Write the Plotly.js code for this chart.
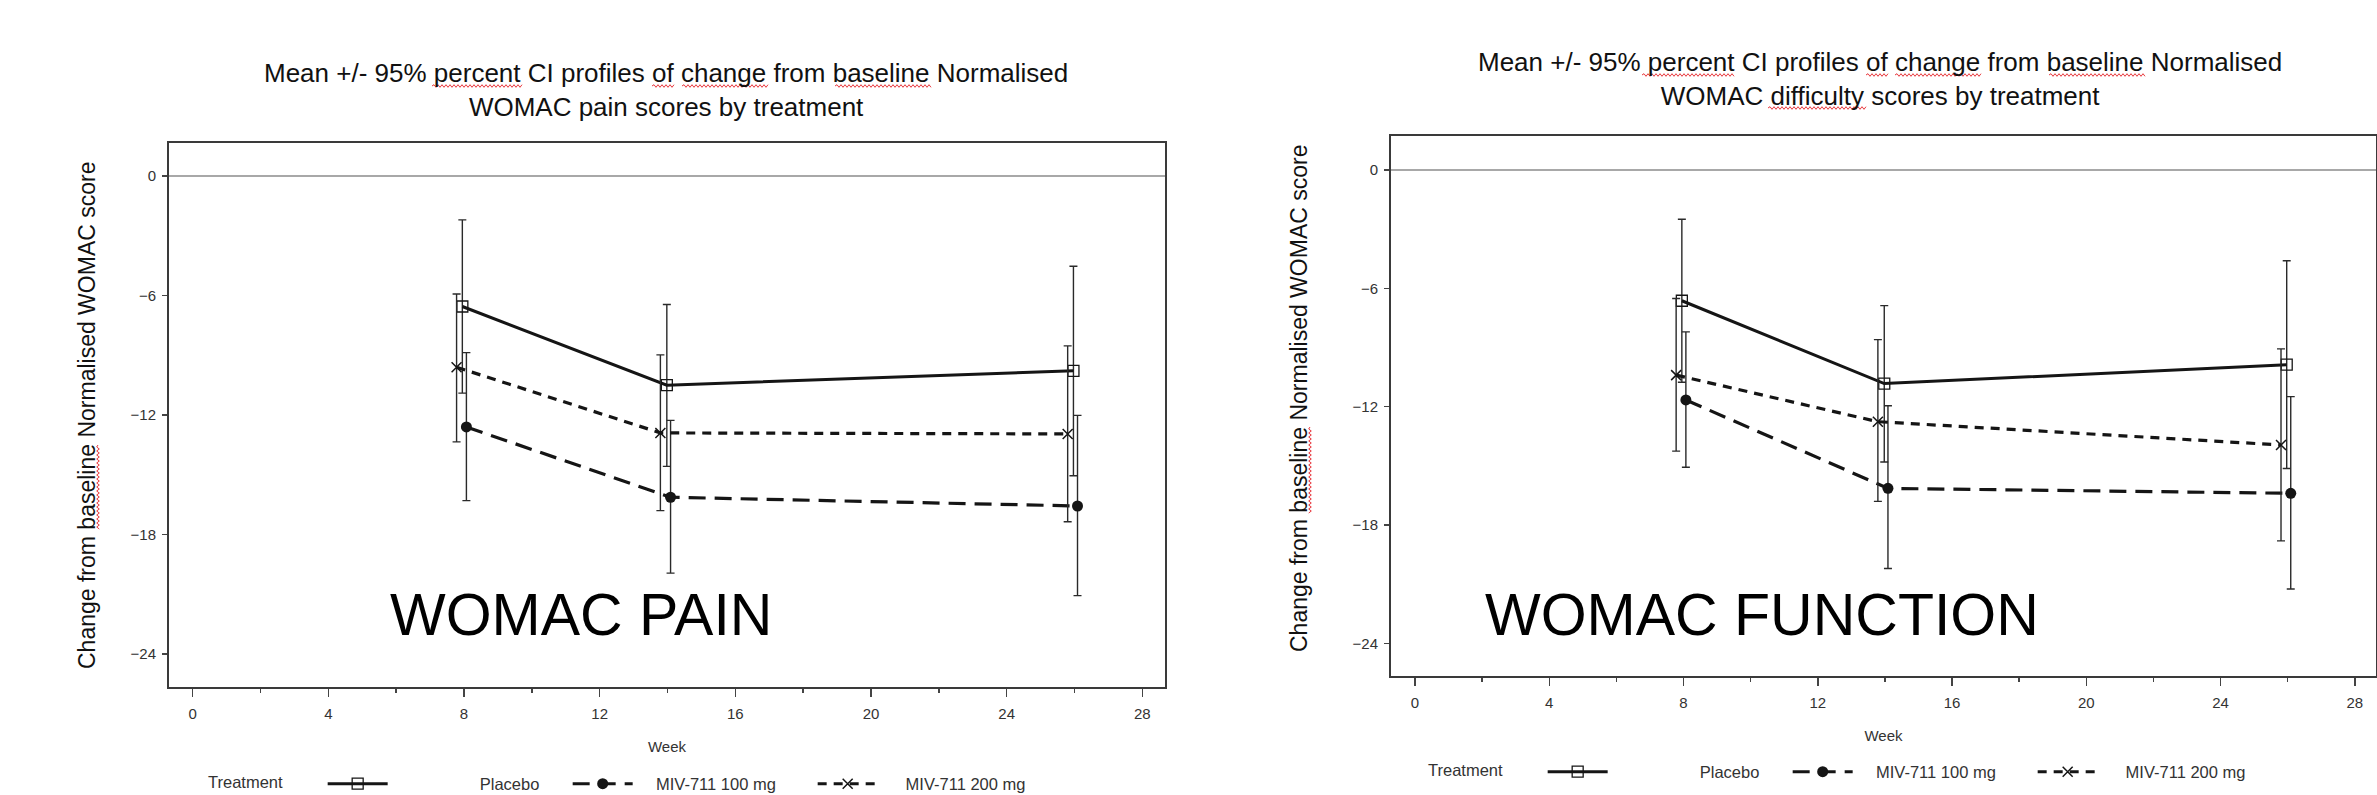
<!DOCTYPE html>
<html>
<head>
<meta charset="utf-8">
<script src="https://cdn.plot.ly/plotly-3.0.1.min.js"></script>
<style>
  html, body { margin: 0; padding: 0; background: #ffffff; }
  #chart { width: 2377px; height: 795px; }
</style>
</head>
<body>
<div id="chart"></div>
<script>
// ---------- data ----------
const treatments = ['Placebo', 'MIV-711 100 mg', 'MIV-711 200 mg'];
const legendTitle = 'Treatment';

// plotted week positions (SAS offsets each group slightly around the visit week)
const weekPlacebo = [7.95, 13.98, 25.97];
const week100 = [8.07, 14.09, 26.09];
const week200 = [7.78, 13.79, 25.8];

// WOMAC pain: mean change and 95% CI
const painPlaceboMean = [-6.55, -10.5, -9.78];
const painPlaceboLow  = [-10.9, -14.58, -15.05];
const painPlaceboHigh = [-2.2, -6.45, -4.53];
const pain100Mean = [-12.6, -16.13, -16.57];
const pain100Low  = [-16.3, -19.94, -21.07];
const pain100High = [-8.87, -12.27, -12.02];
const pain200Mean = [-9.6, -12.9, -12.95];
const pain200Low  = [-13.35, -16.8, -17.36];
const pain200High = [-5.92, -8.98, -8.53];

// WOMAC function (difficulty): mean change and 95% CI
const funcPlaceboMean = [-6.63, -10.83, -9.87];
const funcPlaceboLow  = [-10.76, -14.8, -15.13];
const funcPlaceboHigh = [-2.5, -6.88, -4.6];
const func100Mean = [-11.66, -16.14, -16.39];
const func100Low  = [-15.07, -20.2, -21.24];
const func100High = [-8.21, -11.95, -11.49];
const func200Mean = [-10.4, -12.76, -13.94];
const func200Low  = [-14.25, -16.8, -18.8];
const func200High = [-6.52, -8.6, -9.07];

const xTicks = [0, 4, 8, 12, 16, 20, 24, 28];
const yTicks = [0, -6, -12, -18, -24];

const titlePain = 'Mean +/- 95% percent CI profiles of change from baseline Normalised<br>WOMAC pain scores by treatment';
const titleFunc = 'Mean +/- 95% percent CI profiles of change from baseline Normalised<br>WOMAC difficulty scores by treatment';
const yTitle = 'Change from baseline Normalised WOMAC score';
const xTitle = 'Week';
const labelPain = 'WOMAC PAIN';
const labelFunc = 'WOMAC FUNCTION';

// ---------- styling ----------
const FONT = 'Liberation Sans, Arial, sans-serif';
const INK = '#151515';
const NB = n => '\u00a0'.repeat(n);
const legendPad = [19, 4, 5];   // visual gap between legend symbol and its text
const styles = [
  { line: { color: INK, width: 3, dash: 'solid' }, marker: { symbol: 'square-open', size: 11, color: INK, line: { color: INK, width: 1.3 } } },
  { line: { color: INK, width: 3.2, dash: '17px,9px' }, marker: { symbol: 'circle', size: 11, color: INK, line: { color: INK, width: 0 } } },
  { line: { color: INK, width: 3.2, dash: '9px,7px' }, marker: { symbol: 'x-thin-open', size: 10, color: INK, line: { color: INK, width: 1.5 } } }
];

function diff(a, b) { return a.map((v, i) => v - b[i]); }

function makeTrace(idx, xs, mean, low, high, xa, ya, leg) {
  const st = styles[idx];
  return {
    type: 'scatter', mode: 'lines+markers', name: NB(legendPad[idx]) + treatments[idx],
    x: xs, y: mean, xaxis: xa, yaxis: ya, legend: leg,
    line: st.line, marker: st.marker,
    error_y: { type: 'data', symmetric: false, array: diff(high, mean), arrayminus: diff(mean, low),
               color: '#2a2a2a', thickness: 1.4, width: 4 },
    hoverinfo: 'x+y'
  };
}

const data = [
  makeTrace(0, weekPlacebo, painPlaceboMean, painPlaceboLow, painPlaceboHigh, 'x', 'y', 'legend'),
  makeTrace(1, week100, pain100Mean, pain100Low, pain100High, 'x', 'y', 'legend'),
  makeTrace(2, week200, pain200Mean, pain200Low, pain200High, 'x', 'y', 'legend'),
  makeTrace(0, weekPlacebo, funcPlaceboMean, funcPlaceboLow, funcPlaceboHigh, 'x2', 'y2', 'legend2'),
  makeTrace(1, week100, func100Mean, func100Low, func100High, 'x2', 'y2', 'legend2'),
  makeTrace(2, week200, func200Mean, func200Low, func200High, 'x2', 'y2', 'legend2')
];

const W = 2377, H = 795;
function px(x) { return x / W; }
function py(y) { return 1 - y / H; }

function xAxis(domain, range, anchor) {
  return {
    domain: domain, range: range, anchor: anchor,
    tickmode: 'array', tickvals: xTicks,
    ticks: 'outside', ticklen: 8, tickwidth: 1.5, tickcolor: '#444',
    minor: { tickmode: 'linear', tick0: 0, dtick: 2, ticks: 'outside', ticklen: 4, tickwidth: 1.5, tickcolor: '#444', showgrid: false },
    showline: true, linecolor: '#3a3a3a', linewidth: 2, mirror: true,
    showgrid: false, zeroline: false, automargin: false,
    ticklabelstandoff: 4,
    tickfont: { family: FONT, size: 15, color: '#333' },
    title: { text: xTitle, font: { family: FONT, size: 15, color: '#333' }, standoff: 20 }
  };
}
function yAxis(domain, range, anchor) {
  return {
    domain: domain, range: range, anchor: anchor,
    tickmode: 'array', tickvals: yTicks,
    ticks: 'outside', ticklen: 5, tickwidth: 1.5, tickcolor: '#444',
    showline: true, linecolor: '#3a3a3a', linewidth: 2, mirror: true,
    showgrid: false, automargin: false,
    zeroline: true, zerolinecolor: '#a8a8a8', zerolinewidth: 2.5,
    ticklabelstandoff: 3,
    tickfont: { family: FONT, size: 15, color: '#333' }
  };
}

function legendCfg(x, y) {
  return {
    x: x, xanchor: 'left', y: y, yanchor: 'middle',
    orientation: 'h', bgcolor: 'rgba(0,0,0,0)',
    title: { text: legendTitle + NB(7), side: 'left', font: { family: FONT, size: 16.5, color: '#333' } },
    font: { family: FONT, size: 16.5, color: '#333' },
    entrywidth: 170, entrywidthmode: 'pixels', itemwidth: 60
  };
}

// red spell-check squiggles drawn under flagged words (decoration)
function squiggleH(x0, x1, y) {
  let d = 'M' + px(x0) + ',' + py(y);
  let up = true;
  for (let x = x0 + 2; x <= x1; x += 2) { d += ' L' + px(x) + ',' + py(y + (up ? -1.3 : 1.3)); up = !up; }
  return { type: 'path', xref: 'paper', yref: 'paper', path: d, line: { color: '#e8383d', width: 1 }, layer: 'above' };
}
function squiggleV(x, y0, y1) {
  let d = 'M' + px(x) + ',' + py(y0);
  let up = true;
  for (let y = y0 + 2; y <= y1; y += 2) { d += ' L' + px(x + (up ? -1.3 : 1.3)) + ',' + py(y); up = !up; }
  return { type: 'path', xref: 'paper', yref: 'paper', path: d, line: { color: '#e8383d', width: 1 }, layer: 'above' };
}

const shapes = [
  squiggleH(432, 522, 86), squiggleH(652, 674, 86), squiggleH(682, 768, 86), squiggleH(835, 932, 86),
  squiggleH(1642, 1734, 75), squiggleH(1866, 1888, 75), squiggleH(1895, 1982, 75), squiggleH(2049, 2146, 75),
  squiggleH(1768, 1866, 108),
  squiggleV(98, 445, 530), squiggleV(1310, 427, 513)
];

const layout = {
  width: W, height: H,
  margin: { l: 0, r: 0, t: 0, b: 0, pad: 0, autoexpand: false },
  paper_bgcolor: '#ffffff', plot_bgcolor: '#ffffff',
  showlegend: true,
  font: { family: FONT, color: '#222' },
  xaxis: xAxis([px(169), px(1165)], [-0.7, 28.67], 'y'),
  yaxis: yAxis([py(687), py(143)], [-25.66, 1.66], 'x'),
  xaxis2: xAxis([px(1391), px(2376)], [-0.715, 28.63], 'y2'),
  yaxis2: yAxis([py(676), py(136)], [-25.65, 1.72], 'x2'),
  legend: legendCfg(px(206), py(784)),
  legend2: legendCfg(px(1426), py(772)),
  shapes: shapes,
  annotations: [
    { text: titlePain, xref: 'paper', yref: 'paper', x: px(666), y: py(90), xanchor: 'center', yanchor: 'middle',
      showarrow: false, font: { family: FONT, size: 26, color: '#111' } },
    { text: titleFunc, xref: 'paper', yref: 'paper', x: px(1880), y: py(79), xanchor: 'center', yanchor: 'middle',
      showarrow: false, font: { family: FONT, size: 26, color: '#111' } },
    { text: yTitle, xref: 'paper', yref: 'paper', x: px(87), y: py(416), xanchor: 'center', yanchor: 'middle',
      textangle: -90, showarrow: false, font: { family: FONT, size: 23, color: '#111' } },
    { text: yTitle, xref: 'paper', yref: 'paper', x: px(1299), y: py(399), xanchor: 'center', yanchor: 'middle',
      textangle: -90, showarrow: false, font: { family: FONT, size: 23, color: '#111' } },
    { text: labelPain, xref: 'paper', yref: 'paper', x: px(581), y: py(615), xanchor: 'center', yanchor: 'middle',
      showarrow: false, font: { family: FONT, size: 59, color: '#000' } },
    { text: labelFunc, xref: 'paper', yref: 'paper', x: px(1762), y: py(615), xanchor: 'center', yanchor: 'middle',
      showarrow: false, font: { family: FONT, size: 59, color: '#000' } }
  ]
};

Plotly.newPlot('chart', data, layout, { displayModeBar: false, staticPlot: true });
</script>
</body>
</html>
